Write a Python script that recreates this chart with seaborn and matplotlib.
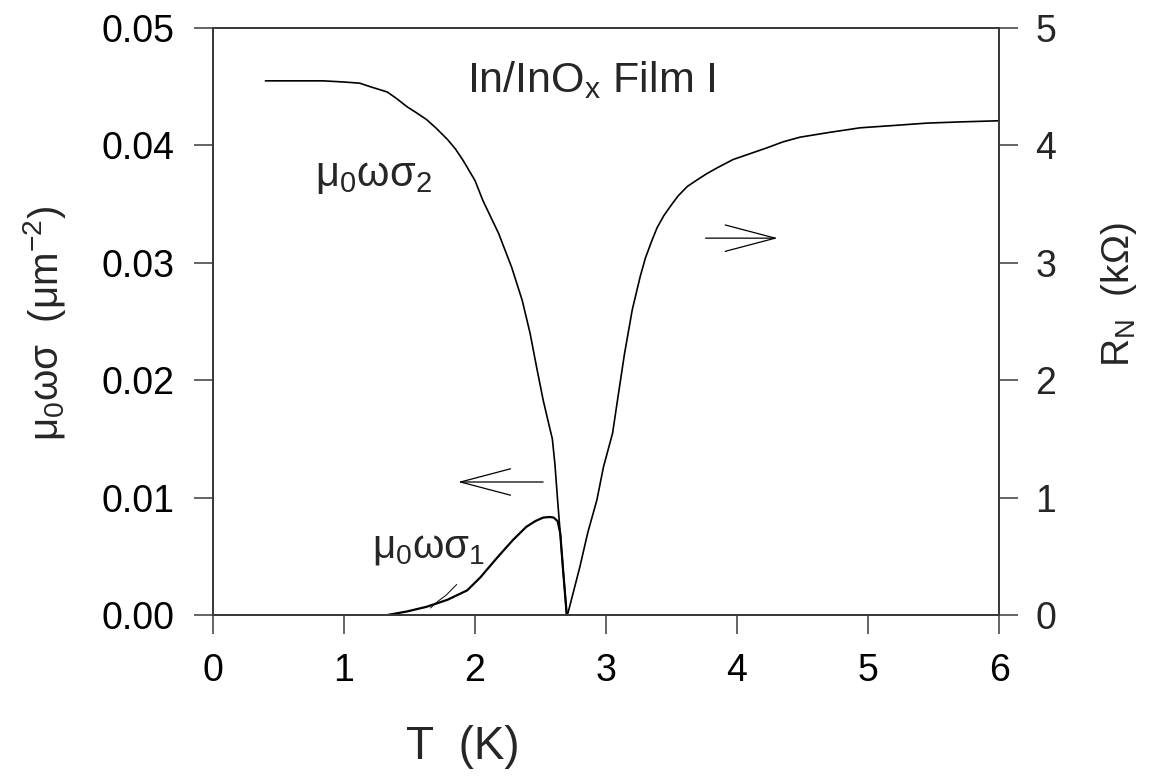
import matplotlib
matplotlib.use('Agg')
import matplotlib.pyplot as plt
import numpy as np
import pandas as pd
import seaborn as sns

# sigma_2 branch (left axis, um^-2)
t_sig2 = [0.40, 0.84, 1.00, 1.12, 1.20, 1.33, 1.40, 1.48, 1.55, 1.63, 1.70, 1.79,
          1.85, 1.91, 2.00, 2.06, 2.18, 2.28, 2.36, 2.42, 2.47, 2.52, 2.56, 2.59,
          2.61, 2.63, 2.65, 2.67, 2.70]
sig2 = [0.0455, 0.0455, 0.0454, 0.0453, 0.0450, 0.04455, 0.0440, 0.0433, 0.0428,
        0.0422, 0.0415, 0.0405, 0.0397, 0.0387, 0.0370, 0.0353, 0.0325, 0.0296,
        0.0268, 0.0240, 0.0211, 0.0183, 0.0164, 0.0150, 0.0128, 0.0098, 0.0070,
        0.0041, 0.0]

# sigma_1 branch (left axis)
t_sig1 = [1.33, 1.48, 1.63, 1.79, 1.94, 2.04, 2.17, 2.29, 2.39, 2.46, 2.52, 2.57,
          2.60, 2.63, 2.65, 2.67, 2.70]
sig1 = [0.0, 0.0003, 0.0007, 0.0013, 0.0021, 0.0032, 0.0049, 0.0064, 0.0075, 0.0080,
        0.0083, 0.00835, 0.0083, 0.0080, 0.0070, 0.0041, 0.0]

# stray noisy trace near sigma_1 foot
t_noise = [1.66, 1.72, 1.78, 1.86]
sig_noise = [0.0006, 0.0012, 0.0017, 0.0026]

# normal-state resistance (right axis, kOhm)
t_rn = [2.70, 2.71, 2.80, 2.86, 2.93, 2.98, 3.05, 3.09, 3.14, 3.20, 3.26, 3.30,
        3.35, 3.39, 3.44, 3.49, 3.55, 3.62, 3.70, 3.77, 3.85, 3.97, 4.10, 4.23,
        4.35, 4.48, 4.70, 4.94, 5.20, 5.45, 5.70, 6.00]
rn = [0.0, 0.02, 0.41, 0.70, 0.98, 1.26, 1.55, 1.85, 2.22, 2.60, 2.88, 3.04,
      3.19, 3.30, 3.40, 3.48, 3.57, 3.65, 3.71, 3.76, 3.81, 3.88, 3.93, 3.98,
      4.03, 4.07, 4.11, 4.15, 4.17, 4.19, 4.20, 4.21]

x_ticks = [0, 1, 2, 3, 4, 5, 6]
left_ticks = [0.00, 0.01, 0.02, 0.03, 0.04, 0.05]
right_ticks = [0, 1, 2, 3, 4, 5]

sns.set_style('white')
plt.rcParams['font.family'] = ['Liberation Sans', 'DejaVu Sans']
plt.rcParams['mathtext.default'] = 'regular'

spine_col = '#3a3a3a'

fig = plt.figure(figsize=(11.51, 7.78), dpi=100)
ax = fig.add_axes([0.1851, 0.2095, 0.6829, 0.7545])
ax2 = ax.twinx()

df2 = pd.DataFrame({'T': t_sig2, 'v': sig2})
df1 = pd.DataFrame({'T': t_sig1, 'v': sig1})
dfn = pd.DataFrame({'T': t_noise, 'v': sig_noise})
dfr = pd.DataFrame({'T': t_rn, 'v': rn})

sns.lineplot(data=df2, x='T', y='v', ax=ax, color='black', lw=1.2, sort=False, estimator=None)
sns.lineplot(data=df1, x='T', y='v', ax=ax, color='black', lw=1.6, sort=False, estimator=None)
sns.lineplot(data=dfn, x='T', y='v', ax=ax, color='black', lw=0.7, sort=False, estimator=None)
sns.lineplot(data=dfr, x='T', y='v', ax=ax2, color='black', lw=1.2, sort=False, estimator=None)

ax.set_xlim(0, 6)
ax.set_ylim(0, 0.05)
ax2.set_ylim(0, 5)
ax.set_xticks(x_ticks)
ax.set_yticks(left_ticks)
ax.set_yticklabels([f'{v:.2f}' for v in left_ticks])
ax2.set_yticks(right_ticks)
ax2.set_yticklabels([str(v) for v in right_ticks])

for a in (ax, ax2):
    for s in a.spines.values():
        s.set_color(spine_col)
        s.set_linewidth(1.3)
ax.tick_params(axis='both', direction='out', length=14, width=1.1, color=spine_col,
               labelsize=27, labelcolor='black')
ax.tick_params(axis='y', pad=14, left=True, right=False)
ax.tick_params(axis='x', pad=13, bottom=True, top=False)
ax2.tick_params(axis='y', direction='out', length=14, width=1.1, color=spine_col,
                labelsize=27, pad=12, right=True, left=False)

ax.set_xlabel('T  (K)', fontsize=33)
ax.xaxis.set_label_coords(0.318, -0.188)
ax.set_ylabel('μ$_0$ωσ  (μm$^{-2}$)', fontsize=29, va='center')
ax.yaxis.set_label_coords(-0.214, 0.497)
ax2.set_ylabel('R$_N$  (kΩ)', fontsize=28, va='center', rotation=90)
ax2.yaxis.set_label_coords(1.152, 0.545)

ax.text(1.94, 0.0445, 'In/InO$_x$ Film I', fontsize=31, ha='left', va='baseline')
ax.text(0.78, 0.0365, 'μ$_0$ωσ$_2$', fontsize=30, ha='left', va='baseline')
ax.text(1.21, 0.0049, 'μ$_0$ωσ$_1$', fontsize=29, ha='left', va='baseline')

arrow = dict(arrowstyle='->,head_length=3.6,head_width=0.95', color='black', lw=0.9,
             shrinkA=0, shrinkB=0, mutation_scale=10)
ax.annotate('', xy=(1.87, 0.01133), xytext=(2.52, 0.01133), arrowprops=arrow)
ax2.annotate('', xy=(4.31, 3.21), xytext=(3.76, 3.21), arrowprops=arrow)

fig.savefig('out.png', dpi=100)
